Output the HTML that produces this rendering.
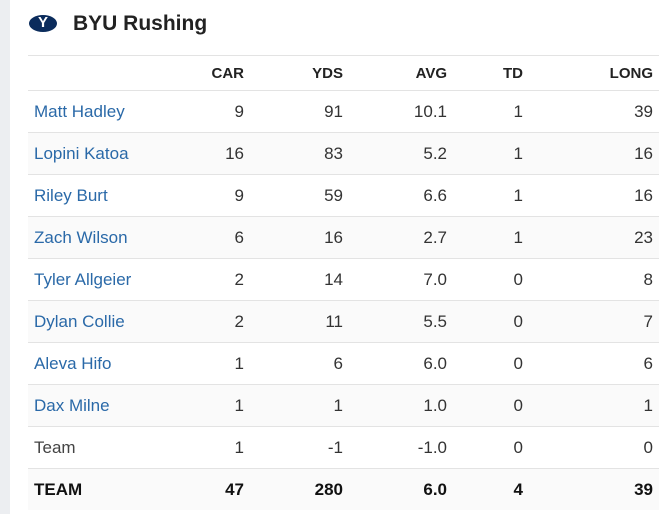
<!DOCTYPE html>
<html><head><style>
body{margin:0;width:661px;height:514px;background:#fff;font-family:"Liberation Sans",Arial,sans-serif;position:relative;overflow:hidden}
.strip{position:absolute;left:0;top:0;width:10px;height:514px;background:#eceef1}
.title{position:absolute;left:73px;top:12px;font-size:21px;font-weight:bold;color:#222}
.logo{position:absolute;left:29px;top:15px;width:28px;height:17px;background:#0b2c5c;border-radius:50%}
.logo span{position:absolute;left:0;top:-1px;width:28px;text-align:center;color:#fff;font-weight:bold;font-size:15px}
table{position:absolute;left:28px;top:55px;width:631px;border-collapse:collapse;font-size:17px}
td,th{height:41px;border-top:1px solid #e3e3e3;padding:0;text-align:right;color:#333}
th{height:34px;font-size:15px;font-weight:bold;color:#222;vertical-align:middle}
td:first-child{text-align:left;padding-left:6px;color:#2a69a8}
tr.g td{background:#fafafa}
tr.t td{font-weight:bold;color:#111}
td.p6,th.p6{padding-right:6px}
td.c,th.c{padding-right:2px}
</style></head><body>
<div class="strip"></div>
<div class="logo"><span>Y</span></div>
<div class="title">BYU Rushing</div>
<table>
<colgroup><col style="width:140px"><col style="width:78px"><col style="width:99px"><col style="width:104px"><col style="width:74px"><col></colgroup>
<tr><th></th><th class="c">CAR</th><th class="c">YDS</th><th class="c">AVG</th><th>TD</th><th class="p6">LONG</th></tr>
<tr><td>Matt Hadley</td><td class="c">9</td><td class="c">91</td><td class="c">10.1</td><td>1</td><td class="p6">39</td></tr>
<tr class="g"><td>Lopini Katoa</td><td class="c">16</td><td class="c">83</td><td class="c">5.2</td><td>1</td><td class="p6">16</td></tr>
<tr><td>Riley Burt</td><td class="c">9</td><td class="c">59</td><td class="c">6.6</td><td>1</td><td class="p6">16</td></tr>
<tr class="g"><td>Zach Wilson</td><td class="c">6</td><td class="c">16</td><td class="c">2.7</td><td>1</td><td class="p6">23</td></tr>
<tr><td>Tyler Allgeier</td><td class="c">2</td><td class="c">14</td><td class="c">7.0</td><td>0</td><td class="p6">8</td></tr>
<tr class="g"><td>Dylan Collie</td><td class="c">2</td><td class="c">11</td><td class="c">5.5</td><td>0</td><td class="p6">7</td></tr>
<tr><td>Aleva Hifo</td><td class="c">1</td><td class="c">6</td><td class="c">6.0</td><td>0</td><td class="p6">6</td></tr>
<tr class="g"><td>Dax Milne</td><td class="c">1</td><td class="c">1</td><td class="c">1.0</td><td>0</td><td class="p6">1</td></tr>
<tr><td style="color:#444">Team</td><td class="c">1</td><td class="c">-1</td><td class="c">-1.0</td><td>0</td><td class="p6">0</td></tr>
<tr class="g t"><td style="color:#111">TEAM</td><td class="c">47</td><td class="c">280</td><td class="c">6.0</td><td>4</td><td class="p6">39</td></tr>
</table>
</body></html>
